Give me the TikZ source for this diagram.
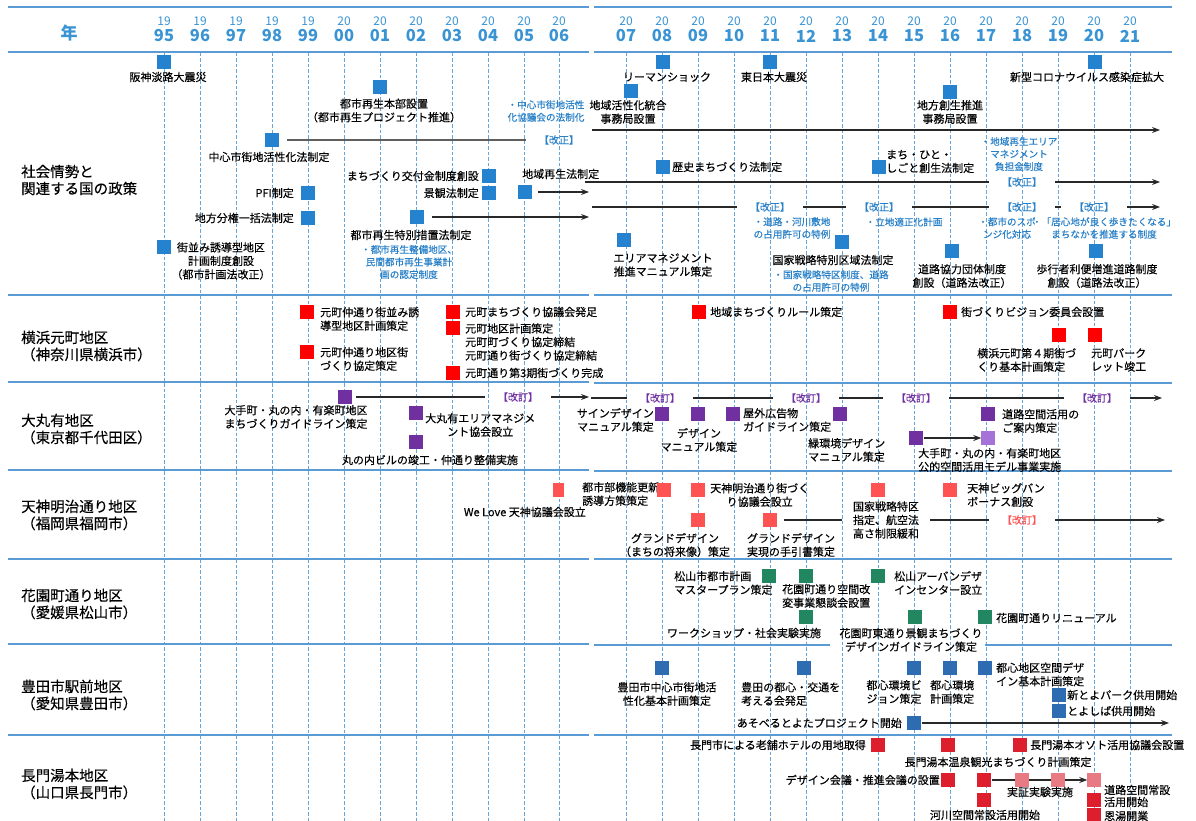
\documentclass[tikz,border=0pt]{standalone}
\usepackage{fontspec}
\setmainfont{Noto Sans CJK JP}[FakeBold=0.3]
\newfontfamily\yrfont{Noto Sans CJK JP}
\usetikzlibrary{arrows.meta}
\definecolor{gridblue}{RGB}{100,165,220}
\definecolor{linblue}{RGB}{91,155,213}
\definecolor{hdrblue}{RGB}{58,148,212}
\definecolor{sqblue}{RGB}{36,130,206}
\definecolor{noteblue}{RGB}{40,128,200}
\definecolor{ymred}{RGB}{255,0,0}
\definecolor{mpurple}{RGB}{112,48,160}
\definecolor{mlpurple}{RGB}{165,115,215}
\definecolor{tjred}{RGB}{255,82,82}
\definecolor{hgreen}{RGB}{34,134,96}
\definecolor{tyblue}{RGB}{46,108,178}
\definecolor{ngred}{RGB}{220,30,45}
\definecolor{nglight}{RGB}{232,122,132}
\definecolor{lincol}{RGB}{40,40,40}
\definecolor{graylin}{RGB}{95,95,95}
\begin{document}
\begin{tikzpicture}[x=1pt,y=-1pt,
  sq/.style={minimum width=13.5pt,minimum height=13.5pt,inner sep=0pt,outer sep=0pt,fill=#1},
  ev/.style={font=\fontsize{11}{13.5}\selectfont,inner sep=0pt,align=left},
  evc/.style={ev,align=center},
  evnote/.style={font=\fontsize{9.6}{12.5}\selectfont,text=noteblue,inner sep=0pt,align=center},
  kai/.style={font=\fontsize{10}{12}\selectfont,text=#1,inner xsep=13pt,inner ysep=0pt},
  seclbl/.style={font=\fontsize{14.5}{17}\selectfont,anchor=west,align=left,inner sep=0pt},
  yrtop/.style={font=\yrfont\fontsize{12}{12}\selectfont,text=hdrblue,inner sep=0pt},
  yrbot/.style={font=\yrfont\fontsize{16.5}{16.5}\bfseries\selectfont,text=hdrblue,inner sep=0pt},
  conn/.style={draw=lincol,line width=1.1pt},
  arr/.style={conn,-{Stealth[length=8pt,width=6pt]}},
  vgrid/.style={draw=gridblue,line width=0.7pt,dash pattern=on 3.5pt off 2pt},
  hsep/.style={draw=linblue,line width=1.4pt},
]
\useasboundingbox (0,0) rectangle (1196,821);
\fill[white] (0,0) rectangle (1196,821);
% grid
\foreach \x in {164,200,236,272,308,344,380,416,452,488,524,559,626,662,698,734,770,806,842,878,914,950,986,1022,1058,1094,1130}
  \draw[vgrid] (\x,53) -- (\x,821);
% separators
\foreach \y in {7,52,295,382,470,559,644,735} \draw[hsep] (8,\y) -- (589,\y);
\foreach \y in {7,52,295,383,471,559,735} \draw[hsep] (594,\y) -- (1172,\y);
\draw[hsep] (594,645) -- (830,645);
\draw[hsep] (985,645) -- (1172,645);
% header
\node[font=\yrfont\fontsize{17}{17}\bfseries\selectfont,text=hdrblue,inner sep=0pt] (nen) at (69,33) {年};
\foreach \x/\a/\b in {164/19/95,200/19/96,236/19/97,272/19/98,308/19/99,344/20/00,380/20/01,416/20/02,452/20/03,488/20/04,524/20/05,559/20/06,626/20/07,662/20/08,698/20/09,734/20/10,770/20/11,806/20/12,842/20/13,878/20/14,914/20/15,950/20/16,986/20/17,1022/20/18,1058/20/19,1094/20/20,1130/20/21}
  {\node[yrtop] (yt\b) at (\x,21) {\a}; \node[yrbot] (yb\b) at (\x,36) {\b};}
% section labels
\node[seclbl] (L1) at (21,180) {社会情勢と\\関連する国の政策};
\node[seclbl] (L2) at (21,346) {横浜元町地区\\（神奈川県横浜市）};
\node[seclbl] (L3) at (21,429) {大丸有地区\\（東京都千代田区）};
\node[seclbl] (L4) at (21,515) {天神明治通り地区\\（福岡県福岡市）};
\node[seclbl] (L5) at (21,604) {花園町通り地区\\（愛媛県松山市）};
\node[seclbl] (L6) at (21,695) {豊田市駅前地区\\（愛知県豊田市）};
\node[seclbl] (L7) at (21,784) {長門湯本地区\\（山口県長門市）};

% ===== society, left part
\node[sq=sqblue] (s1) at (164,62) {};
\node[ev] (t1) at (168,77) {阪神淡路大震災};
\node[sq=sqblue] (s2) at (380,87) {};
\node[evc] (t2) at (384,110.5) {都市再生本部設置\\（都市再生プロジェクト推進）};
\node[evnote] (n1) at (546,111) {・中心市街地活性\\化協議会の法制化};
\node[sq=sqblue] (s3) at (272,140) {};
\node[kai=noteblue] (k1) at (559,140) {【改正】};
\draw[draw=graylin,line width=1.8pt,shorten <=8pt] (s3.east) -- (k1.west);
\node[ev] (t3) at (269,157) {中心市街地活性化法制定};
\node[sq=sqblue] (s4) at (489,176) {};
\node[ev,anchor=east] (t4) at (479,176) {まちづくり交付金制度創設};
\node[ev,anchor=west] (t5) at (522,174) {地域再生法制定};
\node[sq=sqblue] (s5) at (308,193) {};
\node[ev,anchor=east] (t6) at (294,193) {PFI制定};
\node[sq=sqblue] (s6) at (489,193) {};
\node[ev,anchor=east] (t7) at (479,193) {景観法制定};
\node[sq=sqblue] (s7) at (525,192) {};
\coordinate (e7) at (589,192);
\draw[arr,shorten <=6pt] (s7.east) -- (e7);
\node[sq=sqblue] (s8) at (308,218) {};
\node[ev,anchor=east] (t8) at (294,218) {地方分権一括法制定};
\node[sq=sqblue] (s9) at (417,217) {};
\coordinate (e9) at (589,217);
\draw[arr,shorten <=8pt] (s9.east) -- (e9);
\node[ev] (t9) at (411,235) {都市再生特別措置法制定};
\node[evnote] (n2) at (409,262) {・都市再生整備地区、\\民間都市再生事業計\\画の認定制度};
\node[sq=sqblue] (s10) at (164,247) {};
\node[evc] (t10) at (221,261) {街並み誘導型地区\\計画制度創設\\（都市計画法改正）};

% ===== society, right part
\node[sq=sqblue] (r1) at (663,62) {};
\node[ev] (u1) at (667,77) {リーマンショック};
\node[sq=sqblue] (r2) at (770,62) {};
\node[ev] (u2) at (774,77) {東日本大震災};
\node[sq=sqblue] (r3) at (1095,62) {};
\node[ev] (u3) at (1087,77) {新型コロナウイルス感染症拡大};
\node[sq=sqblue] (r4) at (631,91) {};
\node[evc] (u4) at (628,112) {地域活性化統合\\事務局設置};
\node[sq=sqblue] (r5) at (950,92) {};
\node[evc] (u5) at (950,112) {地方創生推進\\事務局設置};
\coordinate (a1) at (592,130); \coordinate (a2) at (1160,130);
\draw[arr] (a1) -- (a2);
\node[evnote] (n3) at (1019,154) {・地域再生エリア\\マネジメント\\負担金制度};
\node[sq=sqblue] (r6) at (663,167) {};
\node[ev,anchor=west] (u6) at (672,167) {歴史まちづくり法制定};
\node[sq=sqblue] (r7) at (879,167) {};
\node[ev,anchor=west] (u7) at (886,161.5) {まち・ひと・\\しごと創生法制定};
\coordinate (b1) at (585,182);
\node[kai=noteblue] (k2) at (1022,182) {【改正】};
\coordinate (b2) at (1160,182);
\draw[conn] (b1) -- (k2.west);
\draw[arr] (k2.east) -- (b2);
\coordinate (c1) at (592,207);
\node[kai=noteblue] (k3) at (770,207) {【改正】};
\node[kai=noteblue] (k4) at (879,207) {【改正】};
\node[kai=noteblue] (k5) at (1022,207) {【改正】};
\node[kai=noteblue] (k6) at (1094,207) {【改正】};
\coordinate (c2) at (1160,207);
\draw[conn] (c1) -- (k3.west) (k3.east) -- (k4.west) (k4.east) -- (k5.west) (k5.east) -- (k6.west);
\draw[arr] (k6.east) -- (c2);
\node[evnote] (n4) at (792,228) {・道路・河川敷地\\の占用許可の特例};
\node[evnote] (n5) at (904,222) {・立地適正化計画};
\node[evnote] (n6) at (1007,228) {・都市のスポ\\ンジ化対応};
\node[evnote] (n7) at (1104,228) {・「居心地が良く歩きたくなる」\\まちなかを推進する制度};
\node[sq=sqblue] (r8) at (624,240) {};
\node[evc] (u8) at (663,265) {エリアマネジメント\\推進マニュアル策定};
\node[sq=sqblue] (r9) at (842,242) {};
\node[ev] (u9) at (833,260) {国家戦略特別区域法制定};
\node[evnote] (n8) at (831,281) {・国家戦略特区制度、道路\\の占用許可の特例};
\node[sq=sqblue] (r10) at (952,251) {};
\node[evc] (u10) at (962,276) {道路協力団体制度\\創設（道路法改正）};
\node[sq=sqblue] (r11) at (1096,251) {};
\node[evc] (u11) at (1097,276) {歩行者利便増進道路制度\\創設（道路法改正）};

% ===== Yokohama
\node[sq=ymred] (y1) at (307,312) {};
\node[ev,anchor=west] (yt1) at (320,319) {元町仲通り街並み誘\\導型地区計画策定};
\node[sq=ymred] (y2) at (307,352) {};
\node[ev,anchor=west] (yt2) at (320,359) {元町仲通り地区街\\づくり協定策定};
\node[sq=ymred] (y3) at (453,312) {};
\node[ev,anchor=west] (yt3) at (465,312) {元町まちづくり協議会発足};
\node[sq=ymred] (y4) at (453,328) {};
\node[ev,anchor=west] (yt4) at (465,342) {元町地区計画策定\\元町町づくり協定締結\\元町通り街づくり協定締結};
\node[sq=ymred] (y5) at (453,373) {};
\node[ev,anchor=west] (yt5) at (465,373) {元町通り第3期街づくり完成};
\node[sq=ymred] (y6) at (699,312) {};
\node[ev,anchor=west] (yt6) at (710,312) {地域まちづくりルール策定};
\node[sq=ymred] (y7) at (950,312) {};
\node[ev,anchor=west] (yt7) at (961,312) {街づくりビジョン委員会設置};
\node[sq=ymred] (y8) at (1059,335) {};
\node[ev,anchor=west] (yt8) at (977,360) {横浜元町第４期街づ\\くり基本計画策定};
\node[sq=ymred] (y9) at (1095,335) {};
\node[ev,anchor=west] (yt9) at (1091,360) {元町パーク\\レット竣工};

% ===== Marunouchi
\node[sq=mpurple] (m1) at (345,397) {};
\node[kai=mpurple] (mk1) at (518,397) {【改訂】};
\coordinate (me1) at (589,397);
\draw[conn,shorten <=4pt] (m1.east) -- (mk1.west);
\draw[arr] (mk1.east) -- (me1);
\coordinate (mr0) at (591,398);
\node[kai=mpurple] (mk2) at (660,398) {【改訂】};
\node[kai=mpurple] (mk3) at (806,398) {【改訂】};
\node[kai=mpurple] (mk4) at (916,398) {【改訂】};
\node[kai=mpurple] (mk5) at (1097,398) {【改訂】};
\coordinate (mr1) at (1162,398);
\draw[conn] (mr0) -- (mk2.west) (mk2.east) -- (mk3.west) (mk3.east) -- (mk4.west) (mk4.east) -- (mk5.west);
\draw[arr] (mk5.east) -- (mr1);
\node[evc] (mt1) at (296,417) {大手町・丸の内・有楽町地区\\まちづくりガイドライン策定};
\node[sq=mpurple] (m2) at (416,413) {};
\node[evc,anchor=west] (mt2) at (425,425) {大丸有エリアマネジメ\\ント協会設立};
\node[sq=mpurple] (m3) at (416,442) {};
\node[ev] (mt3) at (430,460) {丸の内ビルの竣工・仲通り整備実施};
\node[sq=mpurple] (m4) at (662,414) {};
\node[ev,anchor=east,align=right] (mt4) at (654,420) {サインデザイン\\マニュアル策定};
\node[sq=mpurple] (m5) at (698,414) {};
\node[evc] (mt5) at (699,440) {デザイン\\マニュアル策定};
\node[sq=mpurple] (m6) at (733,414) {};
\node[ev,anchor=west] (mt6) at (743,420) {屋外広告物\\ガイドライン策定};
\node[sq=mpurple] (m7) at (840,414) {};
\node[ev,anchor=west] (mt7) at (808,450) {緑環境デザイン\\マニュアル策定};
\node[sq=mpurple] (m8) at (916,438) {};
\node[sq=mlpurple] (m9) at (988,438) {};
\draw[arr,shorten <=1pt] (m8.east) -- (m9.west);
\node[ev,anchor=west] (mt8) at (918,460) {大手町・丸の内・有楽町地区\\公的空間活用モデル事業実施};
\node[sq=mpurple] (m10) at (988,414) {};
\node[ev,anchor=west] (mt10) at (1002,421) {道路空間活用の\\ご案内策定};

% ===== Tenjin
\node[sq=tjred,minimum width=11pt,minimum height=14pt] (j1) at (558,490) {};
\node[ev,anchor=east] (jt1) at (586,512) {We Love 天神協議会設立};
\node[ev,anchor=west] (jt2) at (582,494) {都市部機能更新\\誘導方策策定};
\node[sq=tjred] (j2) at (664,490) {};
\node[sq=tjred] (j3) at (698,490) {};
\node[evc,anchor=west] (jt3) at (710,495) {天神明治通り街づく\\り協議会設立};
\node[sq=tjred] (j4) at (698,520) {};
\node[evc] (jt4) at (675,545) {グランドデザイン\\（まちの将来像）策定};
\node[sq=tjred] (j5) at (770,520) {};
\node[evc] (jt5b) at (791,545) {グランドデザイン\\実現の手引書策定};
\node[sq=tjred] (j6) at (878,490) {};
\node[evc,inner xsep=11pt] (jt5) at (886,520) {国家戦略特区\\指定、航空法\\高さ制限緩和};
\node[kai=tjred] (jk) at (1022,520) {【改訂】};
\coordinate (je) at (1165,520);
\draw[conn,shorten <=7pt] (j5.east) -- (jt5.west);
\draw[conn] (jt5.east) -- (jk.west);
\draw[arr] (jk.east) -- (je);
\node[sq=tjred] (j7) at (950,490) {};
\node[ev,anchor=west] (jt7) at (967,495) {天神ビッグバン\\ボーナス創設};

% ===== Hanazono
\node[sq=hgreen] (h1) at (769,576) {};
\node[ev,anchor=west] (ht1) at (674,583) {松山市都市計画\\マスタープラン策定};
\node[sq=hgreen] (h2) at (806,576) {};
\node[ev,anchor=west] (ht2) at (782,596) {花園町通り空間改\\変事業懇談会設置};
\node[sq=hgreen] (h3) at (878,576) {};
\node[ev,anchor=west] (ht3) at (894,583) {松山アーバンデザ\\インセンター設立};
\node[sq=hgreen] (h4) at (806,617) {};
\node[ev] (ht4) at (744,633) {ワークショップ・社会実験実施};
\node[sq=hgreen] (h5) at (915,617) {};
\node[evc] (ht5) at (911,640) {花園町東通り景観まちづくり\\デザインガイドライン策定};
\node[sq=hgreen] (h6) at (985,617) {};
\node[ev,anchor=west] (ht6) at (996,618) {花園町通りリニューアル};

% ===== Toyota
\node[sq=tyblue] (q1) at (662,668) {};
\node[evc] (qt1) at (667,694) {豊田市中心市街地活\\性化基本計画策定};
\node[sq=tyblue] (q2) at (804,668) {};
\node[ev,anchor=west] (qt2) at (741,694) {豊田の都心・交通を\\考える会発足};
\node[sq=tyblue] (q3) at (914,668) {};
\node[ev] (qt3) at (894,692) {都心環境ビ\\ジョン策定};
\node[sq=tyblue] (q4) at (950,668) {};
\node[ev,anchor=west] (qt4) at (930,692) {都心環境\\計画策定};
\node[sq=tyblue] (q5) at (985,668) {};
\node[ev,anchor=west] (qt5) at (996,674.5) {都心地区空間デザ\\イン基本計画策定};
\node[sq=tyblue] (q6) at (1059,695) {};
\node[ev,anchor=west] (qt6) at (1067,695) {新とよパーク供用開始};
\node[sq=tyblue] (q7) at (1059,711) {};
\node[ev,anchor=west] (qt7) at (1067,711) {とよしば供用開始};
\node[sq=tyblue] (q8) at (914,723) {};
\node[ev,anchor=east] (qt8) at (902,723) {あそべるとよたプロジェクト開始};
\coordinate (qe) at (1169,723);
\draw[arr,shorten <=1pt] (q8.east) -- (qe);

% ===== Nagato
\node[sq=ngred] (g1) at (878,745) {};
\node[ev,anchor=east] (gt1) at (866,745) {長門市による老舗ホテルの用地取得};
\node[sq=ngred] (g2) at (948,745) {};
\node[ev] (gt2) at (998,762) {長門湯本温泉観光まちづくり計画策定};
\node[sq=ngred] (g3) at (1020,745) {};
\node[ev,anchor=west] (gt3) at (1030,745) {長門湯本オソト活用協議会設置};
\node[sq=ngred] (g8) at (948,780) {};
\node[ev,anchor=east] (gt8) at (940,780) {デザイン会議・推進会議の設置};
\node[sq=ngred] (g4) at (984,780) {};
\node[sq=nglight] (g7) at (1094,780) {};
\draw[arr,shorten <=1pt] (g4.east) -- (g7.west);
\node[sq=nglight] (g5) at (1022,780) {};
\node[sq=nglight] (g6) at (1058,780) {};
\node[ev] (gt5) at (1040,792) {実証実験実施};
\node[sq=ngred] (g9) at (984,800) {};
\node[ev] (gt9) at (985,815) {河川空間常設活用開始};
\node[sq=ngred] (g10) at (1094,800) {};
\node[sq=ngred] (g11) at (1094,815) {};
\node[ev,anchor=west] (gt10) at (1104,790) {道路空間常設};
\node[ev,anchor=west] (gt11) at (1104,802) {活用開始};
\node[ev,anchor=west] (gt12) at (1104,816) {恩湯開業};
\end{tikzpicture}
\end{document}
